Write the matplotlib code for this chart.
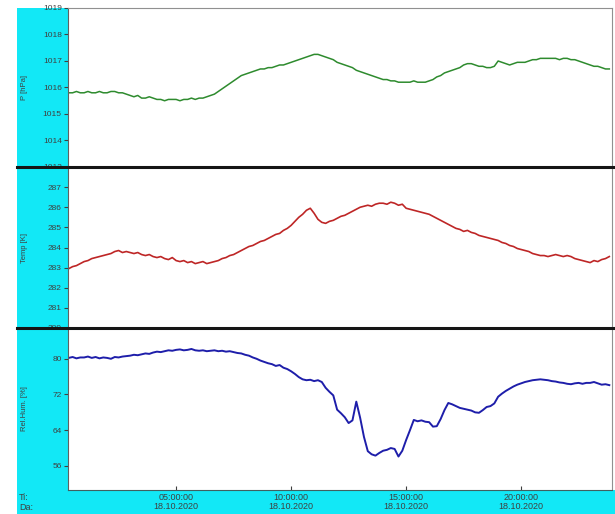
import pandas as pd
import matplotlib
matplotlib.use("Agg")
import matplotlib.pyplot as plt
import matplotlib.dates as mdates
from matplotlib.patches import Rectangle
from matplotlib.lines import Line2D

plt.rcParams['font.family'] = ['Liberation Sans', 'DejaVu Sans']

# ---- measurements, 10-minute samples, 18.10.2020 ----
times = pd.date_range('2020-10-18 00:20', '2020-10-18 23:50', freq='10min')

pressure = [
    1015.80, 1015.80, 1015.85, 1015.80,
    1015.80, 1015.85, 1015.80, 1015.80, 1015.85, 1015.80,
    1015.80, 1015.85, 1015.85, 1015.80, 1015.80, 1015.75,
    1015.70, 1015.65, 1015.70, 1015.60, 1015.60, 1015.65,
    1015.60, 1015.55, 1015.55, 1015.50, 1015.55, 1015.55,
    1015.55, 1015.50, 1015.55, 1015.55, 1015.60, 1015.55,
    1015.60, 1015.60, 1015.65, 1015.70, 1015.75, 1015.85,
    1015.95, 1016.05, 1016.15, 1016.25, 1016.35, 1016.45,
    1016.50, 1016.55, 1016.60, 1016.65, 1016.70, 1016.70,
    1016.75, 1016.75, 1016.80, 1016.85, 1016.85, 1016.90,
    1016.95, 1017.00, 1017.05, 1017.10, 1017.15, 1017.20,
    1017.25, 1017.25, 1017.20, 1017.15, 1017.10, 1017.05,
    1016.95, 1016.90, 1016.85, 1016.80, 1016.75, 1016.65,
    1016.60, 1016.55, 1016.50, 1016.45, 1016.40, 1016.35,
    1016.30, 1016.30, 1016.25, 1016.25, 1016.20, 1016.20,
    1016.20, 1016.20, 1016.25, 1016.20, 1016.20, 1016.20,
    1016.25, 1016.30, 1016.40, 1016.45, 1016.55, 1016.60,
    1016.65, 1016.70, 1016.75, 1016.85, 1016.90, 1016.90,
    1016.85, 1016.80, 1016.80, 1016.75, 1016.75, 1016.80,
    1017.00, 1016.95, 1016.90, 1016.85, 1016.90, 1016.95,
    1016.95, 1016.95, 1017.00, 1017.05, 1017.05, 1017.10,
    1017.10, 1017.10, 1017.10, 1017.10, 1017.05, 1017.10,
    1017.10, 1017.05, 1017.05, 1017.00, 1016.95, 1016.90,
    1016.85, 1016.80, 1016.80, 1016.75, 1016.70, 1016.70,
]

temperature = [
    282.95, 283.05, 283.10, 283.20,
    283.30, 283.35, 283.45, 283.50, 283.55, 283.60,
    283.65, 283.70, 283.80, 283.85, 283.75, 283.80,
    283.75, 283.70, 283.75, 283.65, 283.60, 283.65,
    283.55, 283.50, 283.55, 283.45, 283.40, 283.50,
    283.35, 283.30, 283.35, 283.25, 283.30, 283.20,
    283.25, 283.30, 283.20, 283.25, 283.30, 283.35,
    283.45, 283.50, 283.60, 283.65, 283.75, 283.85,
    283.95, 284.05, 284.10, 284.20, 284.30, 284.35,
    284.45, 284.55, 284.65, 284.70, 284.85, 284.95,
    285.10, 285.30, 285.50, 285.65, 285.85, 285.95,
    285.70, 285.40, 285.25, 285.20, 285.30, 285.35,
    285.45, 285.55, 285.60, 285.70, 285.80, 285.90,
    286.00, 286.05, 286.10, 286.05, 286.15, 286.20,
    286.20, 286.15, 286.25, 286.20, 286.10, 286.15,
    285.95, 285.90, 285.85, 285.80, 285.75, 285.70,
    285.65, 285.55, 285.45, 285.35, 285.25, 285.15,
    285.05, 284.95, 284.90, 284.80, 284.85, 284.75,
    284.70, 284.60, 284.55, 284.50, 284.45, 284.40,
    284.35, 284.25, 284.20, 284.10, 284.05, 283.95,
    283.90, 283.85, 283.80, 283.70, 283.65, 283.60,
    283.60, 283.55, 283.60, 283.65, 283.60, 283.55,
    283.60, 283.55, 283.45, 283.40, 283.35, 283.30,
    283.25, 283.35, 283.30, 283.40, 283.45, 283.55,
]

humidity = [
    80.2, 80.4, 80.1, 80.3,
    80.3, 80.5, 80.2, 80.4, 80.1, 80.3,
    80.2, 80.0, 80.4, 80.3, 80.5, 80.6,
    80.7, 80.9, 80.8, 81.0, 81.2, 81.1,
    81.4, 81.6, 81.5, 81.7, 81.9, 81.8,
    82.0, 82.1, 81.9, 82.0, 82.2, 81.9,
    81.8, 81.9, 81.7, 81.8, 81.9, 81.7,
    81.8, 81.6, 81.7, 81.5, 81.3, 81.2,
    80.9, 80.7, 80.3, 80.0, 79.6, 79.3,
    79.0, 78.8, 78.4, 78.6, 78.0, 77.7,
    77.2, 76.6, 75.9, 75.4, 75.2, 75.3,
    75.0, 75.2, 74.8, 73.5, 72.6, 71.8,
    68.6, 67.8, 66.9, 65.6, 66.2, 70.4,
    66.8, 62.5, 59.3, 58.6, 58.3, 58.9,
    59.4, 59.6, 60.0, 59.8, 58.1, 59.4,
    61.8, 64.0, 66.3, 66.0, 66.2, 65.9,
    65.8, 64.8, 64.9, 66.5, 68.5, 70.1,
    69.8, 69.4, 69.0, 68.8, 68.6, 68.4,
    68.0, 67.9, 68.5, 69.2, 69.4, 70.0,
    71.5, 72.2, 72.8, 73.3, 73.8, 74.2,
    74.5, 74.8, 75.0, 75.2, 75.3, 75.4,
    75.3, 75.2, 75.0, 74.9, 74.7, 74.6,
    74.4, 74.3, 74.5, 74.6, 74.4, 74.6,
    74.6, 74.8, 74.5, 74.2, 74.3, 74.1,
]

pressure_ticks = [1013, 1014, 1015, 1016, 1017, 1018, 1019]
temperature_ticks = [280, 281, 282, 283, 284, 285, 286, 287]
humidity_ticks = [56, 64, 72, 80]
x_tick_hours = [5, 10, 15, 20]

# ---- layout helpers (pixel -> figure fraction) ----
W, H = 615, 514
def fx(px):
    return px / W

def fy(py):
    return 1 - py / H

CYAN = '#12E8F6'
TEXT = '#404040'

fig = plt.figure(figsize=(W / 100, H / 100), dpi=100)
fig.patch.set_facecolor('white')

# cyan frame: left column and bottom strip (behind the axes)
fig.patches.append(Rectangle((fx(17), 0), fx(68) - fx(17), fy(8),
                             transform=fig.transFigure, facecolor=CYAN,
                             edgecolor='none', zorder=-2))
fig.patches.append(Rectangle((fx(17), 0), 1 - fx(17), fy(490),
                             transform=fig.transFigure, facecolor=CYAN,
                             edgecolor='none', zorder=-2))

left, right = fx(68), fx(612)
bounds = [(8, 167), (167, 328), (328, 490)]
series = [
    (pressure, '#2E8B2E', 1.1, (1013, 1019), pressure_ticks, 'P [hPa]'),
    (temperature, '#BE2626', 1.2, (280, 288), temperature_ticks, 'Temp [K]'),
    (humidity, '#1E1EAA', 1.4, (50.6, 86.9), humidity_ticks, 'Rel.Hum. [%]'),
]

x0 = pd.Timestamp('2020-10-18 00:18')
x1 = pd.Timestamp('2020-10-18 23:57')

axes = []
for (top, bot), (vals, col, lw, ylim, yt, lab) in zip(bounds, series):
    ax = fig.add_axes([left, fy(bot), right - left, fy(top) - fy(bot)])
    ax.set_facecolor('white')
    ax.plot(times, vals, color=col, lw=lw)
    ax.set_xlim(x0, x1)
    ax.set_ylim(*ylim)
    ax.set_yticks(yt)
    ax.tick_params(axis='y', direction='out', length=3, width=0.8,
                   pad=1.5, labelsize=6, colors=TEXT)
    for s in ('top', 'right'):
        ax.spines[s].set_color('#909090')
        ax.spines[s].set_linewidth(0.8)
    ax.spines['left'].set_color('#606060')
    ax.spines['left'].set_linewidth(0.8)
    ax.spines['bottom'].set_color('#406060')
    ax.spines['bottom'].set_linewidth(0.8)
    fig.text(fx(25), fy((top + bot) / 2), lab, rotation=90, ha='center',
             va='center', fontsize=5.5, color=TEXT)
    axes.append(ax)

for ax in axes[:-1]:
    ax.tick_params(axis='x', bottom=False, labelbottom=False)
    ax.spines['bottom'].set_visible(False)

axb = axes[-1]
axb.xaxis.set_major_locator(mdates.HourLocator(byhour=x_tick_hours))
axb.xaxis.set_major_formatter(mdates.DateFormatter('%H:%M:%S\n%d.%m.%Y'))
axb.tick_params(axis='x', direction='in', length=3, width=0.8, pad=2,
                labelsize=6.5, colors=TEXT)
for t in axb.get_xticklabels():
    t.set_linespacing(1.0)

# heavy separators between the panels
for py in (167, 328):
    fig.add_artist(Line2D([fx(17), fx(613)], [fy(py), fy(py)],
                          transform=fig.transFigure, color='#151515',
                          lw=2.2, zorder=5))

fig.text(fx(19), fy(497), 'Ti:', fontsize=6.5, color=TEXT, va='center')
fig.text(fx(19), fy(507), 'Da:', fontsize=6.5, color=TEXT, va='center')

fig.savefig('out.png', dpi=100)
